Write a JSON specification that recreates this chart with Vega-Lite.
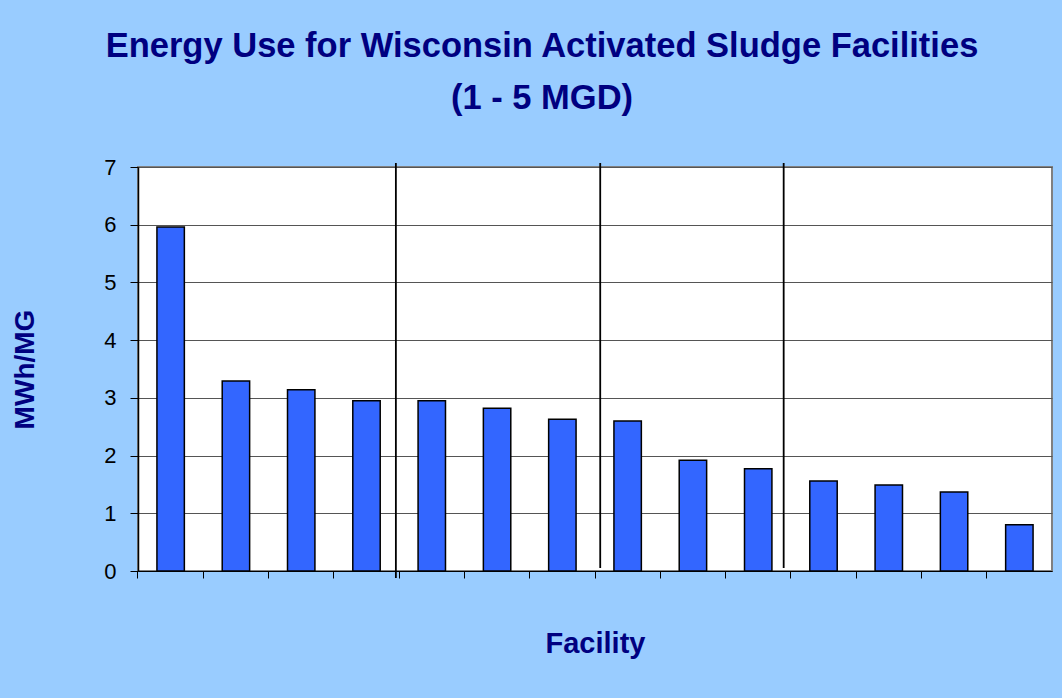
{
  "$schema": "https://vega.github.io/schema/vega-lite/v6.json",
  "width": 914,
  "height": 404,
  "autosize": {"type": "none"},
  "padding": {"left": 138, "top": 167, "right": 10, "bottom": 127},
  "background": "#99CCFF",
  "title": {
    "text": ["Energy Use for Wisconsin Activated Sludge Facilities", "(1 - 5 MGD)"],
    "font": "Liberation Sans",
    "fontSize": 34.5,
    "fontWeight": "bold",
    "color": "#000080",
    "anchor": "middle",
    "frame": "group",
    "dx": -53,
    "lineHeight": 52,
    "offset": 40
  },
  "config": {
    "view": {"stroke": "#808080", "strokeWidth": 2, "fill": "white"},
    "axis": {"labelFont": "Liberation Sans", "titleFont": "Liberation Sans"}
  },
  "datasets": {
    "bars": [
      {"facility": "F01", "mwh_per_mg": 5.96},
      {"facility": "F02", "mwh_per_mg": 3.29},
      {"facility": "F03", "mwh_per_mg": 3.14},
      {"facility": "F04", "mwh_per_mg": 2.95},
      {"facility": "F05", "mwh_per_mg": 2.95},
      {"facility": "F06", "mwh_per_mg": 2.82},
      {"facility": "F07", "mwh_per_mg": 2.63},
      {"facility": "F08", "mwh_per_mg": 2.60},
      {"facility": "F09", "mwh_per_mg": 1.92},
      {"facility": "F10", "mwh_per_mg": 1.77},
      {"facility": "F11", "mwh_per_mg": 1.56},
      {"facility": "F12", "mwh_per_mg": 1.49},
      {"facility": "F13", "mwh_per_mg": 1.37},
      {"facility": "F14", "mwh_per_mg": 0.80}
    ],
    "dividers": [
      {"pos": 3.95, "top": 7.07, "bottom": -0.12},
      {"pos": 7.08, "top": 7.07, "bottom": 0.05},
      {"pos": 9.89, "top": 7.07, "bottom": 0.05}
    ]
  },
  "layer": [
    {
      "data": {"name": "bars"},
      "mark": {"type": "bar", "fill": "#3366FF", "stroke": "#000000", "strokeWidth": 1.5, "width": {"band": 0.42}},
      "encoding": {
        "x": {
          "field": "facility",
          "type": "nominal",
          "sort": null,
          "scale": {"paddingInner": 0, "paddingOuter": 0},
          "axis": {
            "title": "Facility",
            "titleFontSize": 29,
            "titleFontWeight": "bold",
            "titleColor": "#000080",
            "titlePadding": 51,
            "labels": false,
            "bandPosition": 0,
            "tickSize": 7,
            "tickColor": "#000000",
            "tickWidth": 1,
            "domainColor": "#000000",
            "domainWidth": 1,
            "grid": false
          }
        },
        "y": {
          "field": "mwh_per_mg",
          "type": "quantitative",
          "scale": {"domain": [0, 7], "nice": false},
          "axis": {
            "title": "MWh/MG",
            "titleFontSize": 28,
            "titleFontWeight": "bold",
            "titleColor": "#000080",
            "titlePadding": 64,
            "values": [0, 1, 2, 3, 4, 5, 6, 7],
            "format": "d",
            "labelFontSize": 22,
            "labelColor": "#000000",
            "labelPadding": 14,
            "tickSize": 8,
            "tickColor": "#000000",
            "domainColor": "#000000",
            "domainWidth": 1.5,
            "grid": true,
            "gridColor": "#555555",
            "gridWidth": 1.2
          }
        }
      }
    },
    {
      "data": {"name": "dividers"},
      "mark": {"type": "rule", "color": "#000000", "strokeWidth": 1.8},
      "encoding": {
        "x": {"field": "pos", "type": "quantitative", "scale": {"domain": [0, 14], "nice": false}, "axis": null},
        "y": {"field": "top", "type": "quantitative"},
        "y2": {"field": "bottom"}
      }
    }
  ],
  "resolve": {"scale": {"x": "independent"}}
}
